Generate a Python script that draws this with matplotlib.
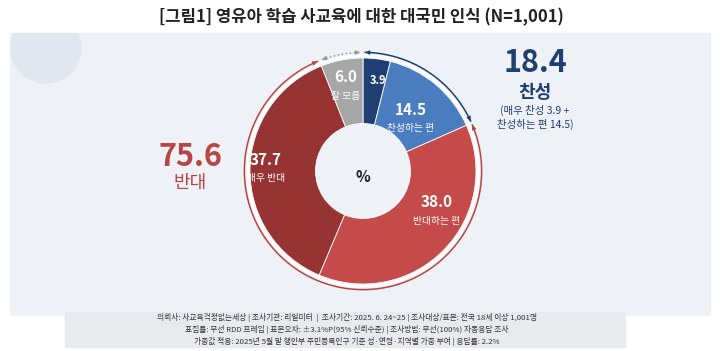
import numpy as np
import matplotlib
matplotlib.use("Agg")
import matplotlib.pyplot as plt
from matplotlib.patches import Rectangle, Circle

plt.rcParams['font.family'] = ['Noto Sans CJK KR', 'DejaVu Sans']

# data (clockwise from 12 o'clock)
values = [3.9, 14.5, 38.0, 37.7, 6.0]
names = ["", "찬성하는 편", "반대하는 편", "매우 반대", "잘 모름"]
colors = ["#1f3f73", "#4a7cc0", "#c54b4b", "#963434", "#a6a6a6"]
support_total = 18.4
oppose_total = 75.6

title = "[그림1] 영유아 학습 사교육에 대한 대국민 인식 (N=1,001)"
notes = [
    "의뢰사: 사교육걱정없는세상 | 조사기관: 리얼미터  |  조사기간: 2025. 6. 24~25 | 조사대상/표본: 전국 18세 이상 1,001명",
    "표집틀: 무선 RDD 프레임 | 표본오차: ±3.1%P(95% 신뢰수준) | 조사방법: 무선(100%) 자동응답 조사",
    "가중값 적용: 2025년 5월 말 행안부 주민등록인구 기준 성·연령·지역별 가중 부여 | 응답률: 2.2%",
]

W, H = 720, 351
fig = plt.figure(figsize=(W / 100, H / 100), dpi=100)
fig.patch.set_facecolor("white")

# background canvas in pixel coordinates
bg = fig.add_axes([0, 0, 1, 1])
bg.set_xlim(0, W)
bg.set_ylim(H, 0)
bg.axis("off")
panel = Rectangle((10, 33), 700, 282, color="#eef1f6", zorder=0)
bg.add_patch(panel)
deco = Circle((46, 48), 35, color="#e2e7ef", zorder=1)
bg.add_patch(deco)
deco.set_clip_path(panel)
bg.add_patch(Rectangle((65, 312), 560, 35, color="#e9eaed", zorder=1))

bg.text(361, 17, title, ha="center", va="center", fontsize=12,
        fontweight="bold", color="#222222")
for i, line in enumerate(notes):
    bg.text(347, 317 + i * 12.3, line, ha="center", va="center",
            fontsize=5.6, color="#333333")

# side totals
bg.text(190, 157, f"{oppose_total:.1f}", ha="center", va="center",
        fontsize=22, fontweight="bold", color="#b84444")
bg.text(190, 183, "반대", ha="center", va="center", fontsize=13,
        color="#b84444")
bg.text(535, 63, f"{support_total:.1f}", ha="center", va="center",
        fontsize=22, fontweight="bold", color="#1f3f73")
bg.text(535, 92, "찬성", ha="center", va="center", fontsize=13,
        fontweight="bold", color="#1f3f73")
bg.text(535, 110, f"(매우 찬성 {values[0]} +", ha="center", va="center",
        fontsize=7.5, color="#1f3f73")
bg.text(535, 124, f"찬성하는 편 {values[1]})", ha="center", va="center",
        fontsize=7.5, color="#1f3f73")

# donut axes
cx, cy, r = 363, 171, 113
lim = 1.15
side = 2 * lim * r
pie_ax = fig.add_axes([(cx - side / 2) / W, (H - cy - side / 2) / H,
                       side / W, side / H])

wedges, _ = pie_ax.pie(values, colors=colors, startangle=90, counterclock=False,
                       radius=1.0, wedgeprops=dict(width=0.58, edgecolor="white",
                                                   linewidth=0.6))
pie_ax.set_xlim(-lim, lim)
pie_ax.set_ylim(-lim, lim)
pie_ax.set_aspect("equal")
pie_ax.axis("off")

total = sum(values)
cum = np.cumsum([0] + values) / total

def ang(frac):
    return np.deg2rad(90 - 360 * frac)

# white ring just outside donut
t = np.linspace(0, 2 * np.pi, 400)
pie_ax.plot(1.02 * np.cos(t), 1.02 * np.sin(t), color="white", lw=2.2)

def arc(f0, f1, color, ls="-", rad=1.05):
    a = np.linspace(ang(f0), ang(f1), 200)
    pie_ax.plot(rad * np.cos(a), rad * np.sin(a), color=color, lw=1.1, ls=ls)
    for fa, fb in ((f0 + 0.006, f0), (f1 - 0.006, f1)):
        pie_ax.annotate("", xy=(rad * np.cos(ang(fb)), rad * np.sin(ang(fb))),
                        xytext=(rad * np.cos(ang(fa)), rad * np.sin(ang(fa))),
                        arrowprops=dict(arrowstyle="-|>", color=color, lw=0.8,
                                        mutation_scale=6, shrinkA=0, shrinkB=0))

arc(cum[0] + 0.003, cum[2] - 0.003, "#1f3f73")
arc(cum[2] + 0.003, cum[4] - 0.003, "#b84444")
arc(cum[4] + 0.004, cum[5] - 0.004, "#9a9a9a", ls=":")

# in-slice labels: (radius, angle offset in fraction)
label_r = [0.81, 0.63, 0.74, 0.86, 0.77]
label_off = [0.007, 0.005, -0.045, 0.003, -0.002]
num_size = [8, 11, 11, 11, 11]
for i, v in enumerate(values):
    mid = (cum[i] + cum[i + 1]) / 2 + label_off[i]
    x, y = label_r[i] * np.cos(ang(mid)), label_r[i] * np.sin(ang(mid))
    if names[i]:
        pie_ax.text(x, y + 0.075, f"{v:.1f}", ha="center", va="center",
                    fontsize=num_size[i], fontweight="bold", color="white")
        pie_ax.text(x, y - 0.09, names[i], ha="center", va="center",
                    fontsize=7, color="white")
    else:
        pie_ax.text(x, y, f"{v:.1f}", ha="center", va="center",
                    fontsize=num_size[i], fontweight="bold", color="white")

pie_ax.text(0, -0.05, "%", ha="center", va="center", fontsize=11,
            fontweight="bold", color="#222222")

fig.savefig("out.png", dpi=100, facecolor=fig.get_facecolor())
